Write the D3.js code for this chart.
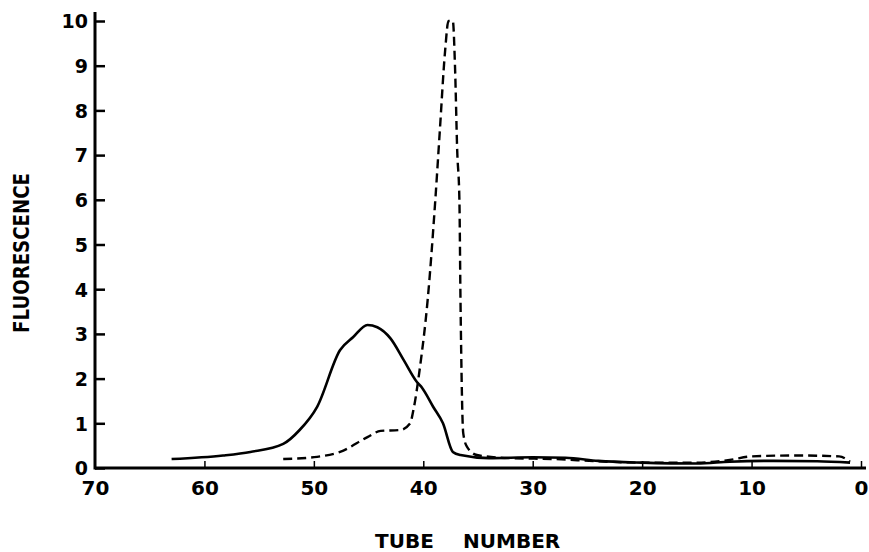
<!DOCTYPE html>
<html>
<head>
<meta charset="utf-8">
<script src="https://cdn.jsdelivr.net/npm/d3@7"></script>
<style>
  html, body { margin: 0; padding: 0; background: #fff; }
  svg { display: block; }
  text { font-family: "DejaVu Sans", sans-serif; font-weight: bold; fill: #000; }
</style>
</head>
<body>
<svg id="chart" width="869" height="552"></svg>
<script>
// ---- data ----
const xTicks = [70, 60, 50, 40, 30, 20, 10, 0];
const yTicks = [0, 1, 2, 3, 4, 5, 6, 7, 8, 9, 10];
const xTitleWords = ["TUBE", "NUMBER"];
const yTitle = "FLUORESCENCE";

const solidTube = [63, 58.3, 55.8, 52.8, 51.3, 49.7, 47.6, 46.4, 45.1, 44.2, 43.0, 41.8, 40.6, 40.1, 39.1, 38.2, 37.3, 36.6, 34, 30, 27, 24, 20, 15, 12, 8, 4, 1];
const solidVal  = [0.2, 0.28, 0.36, 0.54, 0.85, 1.37, 2.64, 2.93, 3.2, 3.15, 2.9, 2.42, 1.93, 1.79, 1.37, 1.0, 0.36, 0.29, 0.22, 0.24, 0.23, 0.16, 0.12, 0.1, 0.14, 0.16, 0.15, 0.12];

const dashTube = [52.8, 49.7, 47.6, 45.1, 43.9, 42.1, 41.2, 40.9, 40.3, 39.6, 38.9, 38.5, 38.0, 37.7, 37.3, 37.1, 36.9, 36.7, 36.6, 36.35, 36.0, 35.1, 32, 28, 24, 20, 15, 12, 10, 6, 2, 1];
const dashVal  = [0.2, 0.25, 0.36, 0.69, 0.83, 0.85, 1.0, 1.3, 2.26, 3.76, 6.0, 7.5, 9.35, 10.0, 10.0, 8.97, 7.1, 6.0, 3.76, 0.78, 0.47, 0.29, 0.22, 0.2, 0.15, 0.12, 0.12, 0.18, 0.26, 0.28, 0.26, 0.14];

// ---- layout ----
const svg = d3.select("#chart");
const x = d3.scaleLinear().domain([70, 0]).range([95, 861]);
const y = d3.scaleLinear().domain([0, 10]).range([468, 21]);

// axes lines
svg.append("line").attr("x1", x(70)).attr("x2", 866).attr("y1", y(0)).attr("y2", y(0))
  .attr("stroke", "#000").attr("stroke-width", 3);
svg.append("line").attr("x1", x(70)).attr("x2", x(70)).attr("y1", y(0) + 1.5).attr("y2", 12)
  .attr("stroke", "#000").attr("stroke-width", 3);

// y ticks and labels
const yAxis = d3.axisRight(y).tickValues(yTicks).tickSize(10).tickFormat(d3.format("d"));
const gy = svg.append("g").attr("transform", `translate(${x(70)},0)`).call(yAxis);
gy.select(".domain").remove();
gy.selectAll(".tick line").attr("stroke", "#000").attr("stroke-width", 2.5);
gy.selectAll(".tick text").attr("x", -7).attr("text-anchor", "end")
  .attr("dy", "0.36em").style("font-size", "19px").style("font-family", "DejaVu Sans").style("font-weight", "bold");

// x ticks and labels
const xAxis = d3.axisTop(x).tickValues(xTicks).tickSize(7).tickFormat(d3.format("d"));
const gx = svg.append("g").attr("transform", `translate(0,${y(0)})`).call(xAxis);
gx.select(".domain").remove();
gx.selectAll(".tick line").attr("stroke", "#000").attr("stroke-width", 1.5)
  .filter(d => d === 70).remove();
gx.selectAll(".tick text").attr("y", 20).attr("dy", "0.36em").attr("text-anchor", "middle")
  .style("font-size", "20px").style("font-family", "DejaVu Sans").style("font-weight", "bold");

// titles
svg.append("text").attr("x", 375).attr("y", 548).style("font-size", "20px").text(xTitleWords[0]);
svg.append("text").attr("x", 463).attr("y", 548).style("font-size", "20px").text(xTitleWords[1]);
svg.append("text")
  .attr("transform", "translate(29,253) rotate(-90)")
  .attr("text-anchor", "middle")
  .attr("textLength", 160).attr("lengthAdjust", "spacingAndGlyphs")
  .style("font-size", "21px").text(yTitle);

// curves
const line = d3.line().x(d => x(d[0])).y(d => y(d[1])).curve(d3.curveMonotoneX);
const solid = solidTube.map((t, i) => [t, solidVal[i]]);
const dashed = dashTube.map((t, i) => [t, dashVal[i]]);

svg.append("path").attr("d", line(solid)).attr("fill", "none")
  .attr("stroke", "#000").attr("stroke-width", 2.6).attr("stroke-linejoin", "round");
svg.append("path").attr("d", line(dashed)).attr("fill", "none")
  .attr("stroke", "#000").attr("stroke-width", 2.4).attr("stroke-dasharray", "9,5");
</script>
</body>
</html>
